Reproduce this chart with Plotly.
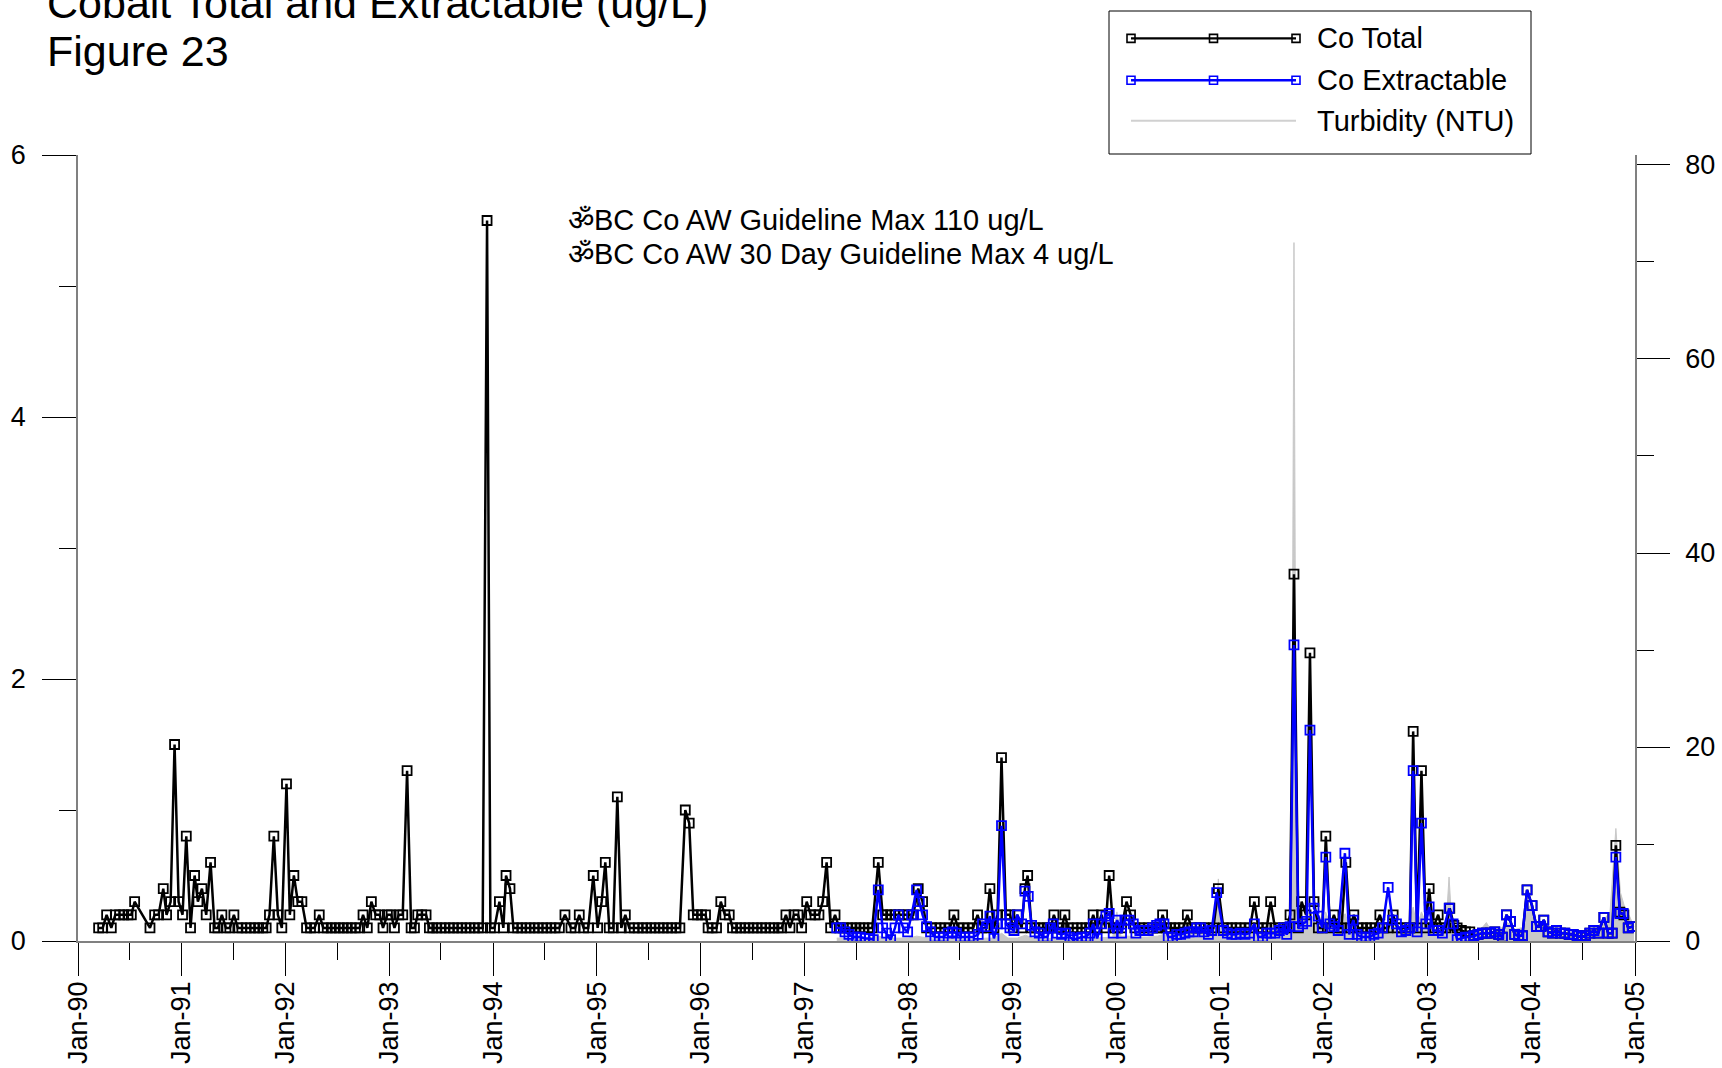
import pandas as pd
import plotly.graph_objects as go

# Values. Times are decimal years on the date axis.
co_total_year = [
    1990.199, 1990.238, 1990.276, 1990.321, 1990.360, 1990.401, 1990.440, 1990.482, 1990.514, 1990.546,
    1990.694, 1990.739, 1990.777, 1990.822, 1990.854, 1990.893, 1990.931, 1990.970,
    1991.008, 1991.044, 1991.085, 1991.124, 1991.156, 1991.195, 1991.236, 1991.278, 1991.317, 1991.349,
    1991.387, 1991.426, 1991.464, 1991.503, 1991.541, 1991.580, 1991.622, 1991.663, 1991.702, 1991.741,
    1991.782, 1991.814, 1991.846, 1991.888, 1991.927, 1991.965,
    1992.010, 1992.042, 1992.081, 1992.119, 1992.158, 1992.203, 1992.241, 1992.280, 1992.325, 1992.364,
    1992.402, 1992.441, 1992.479, 1992.518, 1992.556, 1992.595, 1992.633, 1992.672, 1992.714, 1992.746,
    1992.787, 1992.826, 1992.868, 1992.906, 1992.938, 1992.980,
    1993.016, 1993.048, 1993.090, 1993.128, 1993.170, 1993.209, 1993.241, 1993.273, 1993.311, 1993.353,
    1993.385, 1993.417, 1993.456, 1993.498, 1993.536, 1993.578, 1993.617, 1993.658, 1993.697, 1993.739,
    1993.777, 1993.819, 1993.857, 1993.899, 1993.941, 1993.973,
    1994.012, 1994.060, 1994.098, 1994.124, 1994.162, 1994.195, 1994.236, 1994.275, 1994.317, 1994.355,
    1994.397, 1994.435, 1994.477, 1994.516, 1994.557, 1994.596, 1994.638, 1994.692, 1994.750, 1994.790,
    1994.830, 1994.872, 1994.917, 1994.965,
    1995.007, 1995.046, 1995.081, 1995.119, 1995.158, 1995.197, 1995.235, 1995.274, 1995.312, 1995.360,
    1995.399, 1995.441, 1995.479, 1995.521, 1995.559, 1995.601, 1995.640, 1995.681, 1995.720, 1995.762,
    1995.800, 1995.852, 1995.890, 1995.929, 1995.970,
    1996.008, 1996.047, 1996.072, 1996.111, 1996.153, 1996.194, 1996.233, 1996.275, 1996.307, 1996.345,
    1996.384, 1996.426, 1996.464, 1996.506, 1996.544, 1996.586, 1996.625, 1996.666, 1996.705, 1996.747,
    1996.779, 1996.820, 1996.859, 1996.898, 1996.936, 1996.971,
    1997.020, 1997.058, 1997.100, 1997.138, 1997.174, 1997.212, 1997.251, 1997.293, 1997.334, 1997.373,
    1997.415, 1997.456, 1997.495, 1997.533, 1997.572, 1997.614, 1997.652, 1997.710, 1997.752, 1997.790,
    1997.829, 1997.871, 1997.909, 1997.951, 1997.999,
    1998.047, 1998.095, 1998.137, 1998.176, 1998.224, 1998.266, 1998.304, 1998.352, 1998.400, 1998.439,
    1998.481, 1998.529, 1998.577, 1998.625, 1998.667, 1998.706, 1998.748, 1998.786, 1998.825, 1998.860,
    1998.898, 1998.940, 1998.979,
    1999.011, 1999.050, 1999.092, 1999.124, 1999.150, 1999.188, 1999.220, 1999.262, 1999.300, 1999.339,
    1999.371, 1999.403, 1999.445, 1999.477, 1999.509, 1999.541, 1999.589, 1999.628, 1999.670, 1999.711,
    1999.747, 1999.782, 1999.820, 1999.862, 1999.901, 1999.936, 1999.975,
    2000.013, 2000.055, 2000.103, 2000.142, 2000.183, 2000.231, 2000.270, 2000.312, 2000.353, 2000.392,
    2000.420, 2000.450, 2000.488, 2000.527, 2000.569, 2000.607, 2000.649, 2000.688, 2000.729, 2000.771,
    2000.810, 2000.848, 2000.890, 2000.938, 2000.986,
    2001.034, 2001.073, 2001.115, 2001.156, 2001.195, 2001.243, 2001.291, 2001.333, 2001.372, 2001.413,
    2001.452, 2001.490, 2001.532, 2001.580, 2001.619, 2001.648, 2001.677, 2001.715, 2001.757, 2001.789,
    2001.831, 2001.869, 2001.908, 2001.950, 2001.988,
    2002.022, 2002.061, 2002.100, 2002.141, 2002.173, 2002.215, 2002.254, 2002.292, 2002.334, 2002.376,
    2002.414, 2002.453, 2002.495, 2002.543, 2002.581, 2002.623, 2002.671, 2002.710, 2002.751, 2002.793,
    2002.832, 2002.864, 2002.902, 2002.944, 2002.986,
    2003.018, 2003.057, 2003.105, 2003.137, 2003.179, 2003.217, 2003.256, 2003.288, 2003.329, 2003.368,
    2003.410, 2003.448, 2003.490, 2003.532, 2003.570, 2003.609, 2003.651, 2003.689, 2003.724, 2003.763,
    2003.802, 2003.843, 2003.882, 2003.917, 2003.962,
    2004.010, 2004.052, 2004.091, 2004.123, 2004.164, 2004.206, 2004.245, 2004.283, 2004.325, 2004.367,
    2004.405, 2004.444, 2004.486, 2004.524, 2004.566, 2004.604, 2004.646, 2004.701, 2004.742, 2004.781,
    2004.816, 2004.855, 2004.893, 2004.935, 2004.974,
]
co_total_ugl = [
    0.1, 0.1, 0.2, 0.1, 0.2, 0.2, 0.2, 0.2, 0.2, 0.3,
    0.1, 0.2, 0.2, 0.4, 0.2, 0.3, 1.5, 0.3,
    0.2, 0.8, 0.1, 0.5, 0.3, 0.4, 0.2, 0.6, 0.1, 0.1,
    0.2, 0.1, 0.1, 0.2, 0.1, 0.1, 0.1, 0.1, 0.1, 0.1,
    0.1, 0.1, 0.2, 0.8, 0.2, 0.1,
    1.2, 0.2, 0.5, 0.3, 0.3, 0.1, 0.1, 0.1, 0.2, 0.1,
    0.1, 0.1, 0.1, 0.1, 0.1, 0.1, 0.1, 0.1, 0.1, 0.2,
    0.1, 0.3, 0.2, 0.2, 0.1, 0.2,
    0.2, 0.1, 0.2, 0.2, 1.3, 0.1, 0.1, 0.2, 0.2, 0.2,
    0.1, 0.1, 0.1, 0.1, 0.1, 0.1, 0.1, 0.1, 0.1, 0.1,
    0.1, 0.1, 0.1, 0.1, 5.5, 0.1,
    0.1, 0.3, 0.1, 0.5, 0.4, 0.1, 0.1, 0.1, 0.1, 0.1,
    0.1, 0.1, 0.1, 0.1, 0.1, 0.1, 0.1, 0.2, 0.1, 0.1,
    0.2, 0.1, 0.1, 0.5,
    0.1, 0.3, 0.6, 0.1, 0.1, 1.1, 0.1, 0.2, 0.1, 0.1,
    0.1, 0.1, 0.1, 0.1, 0.1, 0.1, 0.1, 0.1, 0.1, 0.1,
    0.1, 1.0, 0.9, 0.2, 0.2,
    0.2, 0.2, 0.1, 0.1, 0.1, 0.3, 0.2, 0.2, 0.1, 0.1,
    0.1, 0.1, 0.1, 0.1, 0.1, 0.1, 0.1, 0.1, 0.1, 0.1,
    0.1, 0.2, 0.1, 0.2, 0.2, 0.1,
    0.3, 0.2, 0.2, 0.2, 0.3, 0.6, 0.1, 0.2, 0.1, 0.1,
    0.1, 0.1, 0.1, 0.1, 0.1, 0.1, 0.1, 0.6, 0.2, 0.2,
    0.2, 0.2, 0.2, 0.2, 0.2,
    0.2, 0.4, 0.3, 0.1, 0.1, 0.1, 0.1, 0.1, 0.1, 0.2,
    0.1, 0.1, 0.1, 0.1, 0.2, 0.1, 0.1, 0.4, 0.1, 0.2,
    1.4, 0.2, 0.2,
    0.1, 0.2, 0.1, 0.4, 0.5, 0.1, 0.1, 0.1, 0.1, 0.1,
    0.1, 0.2, 0.1, 0.1, 0.2, 0.1, 0.1, 0.1, 0.1, 0.1,
    0.1, 0.2, 0.1, 0.2, 0.1, 0.5, 0.1,
    0.1, 0.1, 0.3, 0.2, 0.1, 0.1, 0.1, 0.1, 0.1, 0.1,
    0.1, 0.2, 0.1, 0.1, 0.1, 0.1, 0.1, 0.2, 0.1, 0.1,
    0.1, 0.1, 0.1, 0.1, 0.4,
    0.1, 0.1, 0.1, 0.1, 0.1, 0.1, 0.1, 0.3, 0.1, 0.1,
    0.1, 0.3, 0.1, 0.1, 0.1, 0.1, 0.2, 2.8, 0.1, 0.3,
    0.2, 2.2, 0.3, 0.1, 0.1,
    0.8, 0.1, 0.2, 0.1, 0.1, 0.6, 0.1, 0.2, 0.1, 0.1,
    0.1, 0.1, 0.1, 0.2, 0.1, 0.1, 0.2, 0.1, 0.1, 0.1,
    0.1, 1.6, 0.1, 1.3, 0.1,
    0.4, 0.1, 0.2, 0.1, 0.1, 0.25, 0.12, 0.1, 0.08, 0.07,
    0.07, 0.04, 0.05, 0.06, 0.06, 0.06, 0.07, 0.05, 0.03, 0.20,
    0.15, 0.05, 0.04, 0.04, 0.39,
    0.27, 0.11, 0.11, 0.16, 0.07, 0.06, 0.08, 0.06, 0.06, 0.05,
    0.05, 0.04, 0.03, 0.04, 0.06, 0.08, 0.06, 0.18, 0.06, 0.06,
    0.73, 0.22, 0.20, 0.10, 0.11,
]

co_extract_year = [
    1997.309, 1997.347, 1997.389, 1997.427, 1997.463, 1997.501, 1997.540, 1997.582, 1997.623, 1997.662,
    1997.710, 1997.752, 1997.790, 1997.829, 1997.871, 1997.903, 1997.951, 1997.993,
    1998.031, 1998.079, 1998.105, 1998.137, 1998.176, 1998.214, 1998.256, 1998.298, 1998.336, 1998.384,
    1998.426, 1998.465, 1998.503, 1998.545, 1998.587, 1998.625, 1998.673, 1998.715, 1998.754, 1998.786,
    1998.825, 1998.860, 1998.898, 1998.940, 1998.979,
    1999.018, 1999.050, 1999.092, 1999.124, 1999.156, 1999.188, 1999.220, 1999.262, 1999.300, 1999.339,
    1999.371, 1999.397, 1999.435, 1999.477, 1999.515, 1999.557, 1999.589, 1999.631, 1999.670, 1999.711,
    1999.750, 1999.782, 1999.820, 1999.862, 1999.904, 1999.936, 1999.975,
    2000.013, 2000.055, 2000.087, 2000.129, 2000.168, 2000.193, 2000.231, 2000.270, 2000.312, 2000.353,
    2000.392, 2000.424, 2000.463, 2000.504, 2000.546, 2000.585, 2000.623, 2000.665, 2000.704, 2000.745,
    2000.777, 2000.816, 2000.848, 2000.890, 2000.922, 2000.970,
    2001.034, 2001.073, 2001.115, 2001.156, 2001.195, 2001.243, 2001.285, 2001.333, 2001.372, 2001.413,
    2001.452, 2001.490, 2001.532, 2001.574, 2001.612, 2001.645, 2001.677, 2001.715, 2001.757, 2001.799,
    2001.837, 2001.869, 2001.908, 2001.950, 2001.988,
    2002.022, 2002.061, 2002.100, 2002.141, 2002.206, 2002.247, 2002.286, 2002.324, 2002.366, 2002.408,
    2002.446, 2002.485, 2002.527, 2002.568, 2002.623, 2002.665, 2002.703, 2002.751, 2002.793, 2002.832,
    2002.864, 2002.902, 2002.944, 2002.986,
    2003.018, 2003.057, 2003.105, 2003.146, 2003.211, 2003.249, 2003.288, 2003.329, 2003.368, 2003.410,
    2003.448, 2003.490, 2003.532, 2003.570, 2003.609, 2003.651, 2003.689, 2003.724, 2003.763, 2003.802,
    2003.843, 2003.882, 2003.917, 2003.962,
    2004.010, 2004.052, 2004.091, 2004.123, 2004.164, 2004.206, 2004.245, 2004.283, 2004.325, 2004.367,
    2004.405, 2004.444, 2004.486, 2004.524, 2004.566, 2004.604, 2004.646, 2004.701, 2004.742, 2004.781,
    2004.816, 2004.855, 2004.887, 2004.935, 2004.974,
]
co_extract_ugl = [
    0.10, 0.10, 0.07, 0.05, 0.03, 0.03, 0.03, 0.02, 0.02, 0.01,
    0.39, 0.10, 0.06, 0.01, 0.10, 0.20, 0.10, 0.07,
    0.20, 0.39, 0.30, 0.20, 0.11, 0.07, 0.03, 0.03, 0.03, 0.06,
    0.07, 0.06, 0.03, 0.03, 0.03, 0.03, 0.05, 0.13, 0.11, 0.19,
    0.02, 0.13, 0.88, 0.13, 0.10,
    0.08, 0.20, 0.13, 0.38, 0.34, 0.12, 0.07, 0.06, 0.03, 0.03,
    0.10, 0.13, 0.06, 0.05, 0.06, 0.03, 0.01, 0.02, 0.03, 0.03,
    0.06, 0.13, 0.02, 0.13, 0.19, 0.21, 0.06,
    0.16, 0.06, 0.16, 0.16, 0.13, 0.06, 0.08, 0.08, 0.08, 0.10,
    0.12, 0.13, 0.13, 0.03, 0.03, 0.05, 0.05, 0.06, 0.07, 0.07,
    0.10, 0.10, 0.07, 0.05, 0.08, 0.37,
    0.08, 0.06, 0.05, 0.05, 0.06, 0.05, 0.06, 0.13, 0.03, 0.03,
    0.06, 0.06, 0.06, 0.08, 0.10, 0.05, 0.11, 2.26, 0.11, 0.13,
    0.15, 1.61, 0.25, 0.19, 0.10,
    0.64, 0.13, 0.11, 0.08, 0.67, 0.05, 0.16, 0.05, 0.03, 0.03,
    0.03, 0.05, 0.06, 0.10, 0.41, 0.16, 0.13, 0.07, 0.08, 0.10,
    1.30, 0.07, 0.90, 0.13,
    0.26, 0.08, 0.08, 0.06, 0.25, 0.13, 0.01, 0.02, 0.03, 0.03,
    0.04, 0.05, 0.06, 0.06, 0.06, 0.07, 0.05, 0.03, 0.20, 0.15,
    0.05, 0.04, 0.04, 0.39,
    0.27, 0.11, 0.11, 0.16, 0.07, 0.06, 0.08, 0.06, 0.06, 0.05,
    0.05, 0.04, 0.03, 0.04, 0.06, 0.08, 0.06, 0.18, 0.06, 0.06,
    0.64, 0.21, 0.21, 0.10, 0.11,
]

turbidity_year = [
    1997.31, 1997.40, 1997.50, 1997.60, 1997.71, 1997.80, 1997.90, 1998.00, 1998.08, 1998.15,
    1998.25, 1998.35, 1998.45, 1998.55, 1998.65, 1998.75, 1998.82, 1998.90, 1998.96, 1999.05,
    1999.13, 1999.20, 1999.30, 1999.40, 1999.50, 1999.60, 1999.70, 1999.80, 1999.90, 1999.97,
    2000.01, 2000.05, 2000.12, 2000.20, 2000.30, 2000.40, 2000.50, 2000.60, 2000.70, 2000.80,
    2000.90, 2000.96, 2000.986, 2001.01, 2001.10, 2001.20, 2001.30, 2001.40, 2001.49, 2001.55,
    2001.62, 2001.69, 2001.715, 2001.74, 2001.80, 2001.87, 2001.93, 2002.00, 2002.02, 2002.06,
    2002.12, 2002.21, 2002.25, 2002.35, 2002.45, 2002.55, 2002.62, 2002.70, 2002.80, 2002.864,
    2002.90, 2002.944, 2003.00, 2003.10, 2003.18, 2003.21, 2003.24, 2003.30, 2003.40, 2003.50,
    2003.57, 2003.62, 2003.70, 2003.76, 2003.85, 2003.92, 2003.96, 2004.00, 2004.05, 2004.12,
    2004.20, 2004.30, 2004.40, 2004.50, 2004.60, 2004.70, 2004.76, 2004.816, 2004.86, 2004.90,
    2004.95, 2004.99,
]
turbidity_ntu = [
    0.3, 0.3, 0.2, 0.3, 0.5, 0.3, 0.3, 0.3, 0.5, 0.4,
    0.2, 0.2, 0.3, 0.2, 0.2, 0.3, 0.3, 0.8, 0.3, 0.3,
    0.6, 0.3, 0.2, 0.3, 0.2, 0.2, 0.3, 0.3, 0.4, 0.4,
    3.0, 0.5, 0.5, 0.4, 0.4, 0.5, 0.8, 0.9, 1.0, 1.1,
    1.0, 2.5, 6.4, 1.5, 1.0, 1.1, 1.2, 1.0, 1.8, 1.1,
    1.2, 2.0, 72.0, 2.5, 1.8, 3.0, 1.5, 1.6, 3.0, 1.8,
    2.2, 2.8, 1.5, 1.2, 1.0, 1.2, 2.0, 1.3, 1.2, 3.5,
    1.5, 3.0, 1.5, 1.2, 1.5, 6.6, 1.3, 0.8, 0.9, 1.0,
    1.9, 1.0, 1.1, 2.0, 1.2, 1.4, 3.0, 3.8, 2.0, 1.8,
    1.2, 1.0, 0.8, 0.7, 1.0, 2.2, 3.0, 11.6, 5.0, 3.5,
    2.5, 1.5,
]

title_lines = ["Cobalt Total and Extractable (ug/L)", "Figure 23"]
guideline_notes = ["ॐBC Co AW Guideline Max 110 ug/L", "ॐBC Co AW 30 Day Guideline Max 4 ug/L"]
legend_names = ["Co Total", "Co Extractable", "Turbidity (NTU)"]

assert len(co_total_year) == len(co_total_ugl)
assert len(co_extract_year) == len(co_extract_ugl)
assert len(turbidity_year) == len(turbidity_ntu)

W, H = 1722, 1068
ML, MR, MT, MB = 78, 87, 155, 127
FONT = "Liberation Sans, Arial, sans-serif"
AXIS_GREY = "#808080"
TURB_GREY = "#c8c8c8"
LINE_W = 2.5
MARK = dict(symbol="square-open", size=9)
MARK_W = 1.8


def to_dates(years):
    out = []
    for t in years:
        y = int(t)
        start = pd.Timestamp(year=y, month=1, day=1)
        end = pd.Timestamp(year=y + 1, month=1, day=1)
        out.append(start + (end - start) * (t - y))
    return out


def px(x):
    # pixel column -> paper x
    return (x - ML) / (W - ML - MR)


def py(y):
    # pixel row -> paper y
    return (H - MB - y) / (H - MT - MB)


fig = go.Figure()

# turbidity goes on the base axis so the cobalt lines are drawn over it
fig.add_trace(go.Scatter(
    x=to_dates(turbidity_year), y=turbidity_ntu, name=legend_names[2],
    mode="lines", fill="tozeroy", fillcolor=TURB_GREY,
    line=dict(color=TURB_GREY, width=1), xaxis="x", yaxis="y", showlegend=False,
))
fig.add_trace(go.Scatter(
    x=to_dates(co_total_year), y=co_total_ugl, name=legend_names[0],
    mode="lines+markers", line=dict(color="black", width=LINE_W),
    marker=dict(**MARK, color="black", line=dict(width=MARK_W)),
    xaxis="x", yaxis="y2", showlegend=False,
))
fig.add_trace(go.Scatter(
    x=to_dates(co_extract_year), y=co_extract_ugl, name=legend_names[1],
    mode="lines+markers", line=dict(color="#0000ff", width=LINE_W),
    marker=dict(**MARK, color="#0000ff", line=dict(width=MARK_W)),
    xaxis="x", yaxis="y2", showlegend=False,
))

tick_font = dict(family=FONT, size=27, color="black")

fig.update_layout(
    width=W, height=H,
    margin=dict(l=ML, r=MR, t=MT, b=MB, pad=0, autoexpand=False),
    paper_bgcolor="white", plot_bgcolor="white",
    font=dict(family=FONT, color="black"),
    showlegend=False,
    xaxis=dict(
        type="date", range=["1990-01-01", "2005-01-01"], automargin=False,
        tick0="1990-01-01", dtick="M12", tickformat="%b-%y", tickangle=-90,
        ticks="outside", ticklen=33, tickwidth=1, tickcolor="black",
        ticklabelstandoff=-5,
        minor=dict(dtick="M6", tick0="1990-01-01", ticks="outside", ticklen=17,
                   tickwidth=1, tickcolor="black", showgrid=False),
        showline=True, linecolor=AXIS_GREY, linewidth=1.5,
        showgrid=False, zeroline=False, tickfont=tick_font,
    ),
    yaxis=dict(
        side="right", range=[0, 81.03], tick0=0, dtick=20, automargin=False,
        ticks="outside", ticklen=33, tickwidth=1, tickcolor="black",
        ticklabelstandoff=10,
        minor=dict(dtick=10, ticks="outside", ticklen=17, tickwidth=1,
                   tickcolor="black", showgrid=False),
        showline=True, linecolor=AXIS_GREY, linewidth=1.5,
        showgrid=False, zeroline=False, tickfont=tick_font,
    ),
    yaxis2=dict(
        overlaying="y", side="left", anchor="x", range=[0, 6], tick0=0, dtick=2,
        automargin=False,
        ticks="outside", ticklen=34, tickwidth=1, tickcolor="black",
        ticklabelstandoff=11,
        minor=dict(dtick=1, ticks="outside", ticklen=17, tickwidth=1,
                   tickcolor="black", showgrid=False),
        showline=True, linecolor=AXIS_GREY, linewidth=1.5,
        showgrid=False, zeroline=False, tickfont=tick_font,
    ),
)

annotations = []
# two-line title, first line runs off the top of the page
for text, row in zip(title_lines, [3, 51]):
    annotations.append(dict(
        text=text, xref="paper", yref="paper", x=px(45), y=py(row),
        xanchor="left", yanchor="middle", showarrow=False,
        font=dict(family=FONT, size=43, color="black"),
    ))
for text, row in zip(guideline_notes, [219.6, 253.7]):
    annotations.append(dict(
        text=text, xref="paper", yref="paper", x=px(566), y=py(row),
        xanchor="left", yanchor="middle", showarrow=False,
        font=dict(family=FONT, size=29, color="black"),
    ))

# legend drawn by hand so the line samples are as long as in the original
shapes = [dict(
    type="rect", xref="paper", yref="paper",
    x0=px(1109), x1=px(1531), y0=py(154), y1=py(11),
    line=dict(color="black", width=1), fillcolor="white", layer="above",
)]
legend_rows = [38.4, 80.2, 120.8]
legend_colors = ["black", "#0000ff", "#d0d0d0"]
legend_marks = [True, True, False]
for name, row, col, has_mark in zip(legend_names, legend_rows, legend_colors, legend_marks):
    shapes.append(dict(
        type="line", xref="paper", yref="paper",
        x0=px(1131), x1=px(1296), y0=py(row), y1=py(row),
        line=dict(color=col, width=2.4 if has_mark else 2), layer="above",
    ))
    if has_mark:
        for mx in [1131, 1213.5, 1296]:
            shapes.append(dict(
                type="rect", xref="paper", yref="paper",
                xsizemode="pixel", ysizemode="pixel",
                xanchor=px(mx), yanchor=py(row), x0=-4, x1=4, y0=-4, y1=4,
                line=dict(color=col, width=1.6), fillcolor="rgba(0,0,0,0)",
                layer="above",
            ))
    annotations.append(dict(
        text=name, xref="paper", yref="paper", x=px(1315), y=py(row),
        xanchor="left", yanchor="middle", showarrow=False,
        font=dict(family=FONT, size=29, color="black"),
    ))

fig.update_layout(annotations=annotations, shapes=shapes)

fig.write_html(
    "out.html",
    config={"displayModeBar": False},
    post_script="document.body.style.margin='0';document.body.style.overflow='hidden';",
)
